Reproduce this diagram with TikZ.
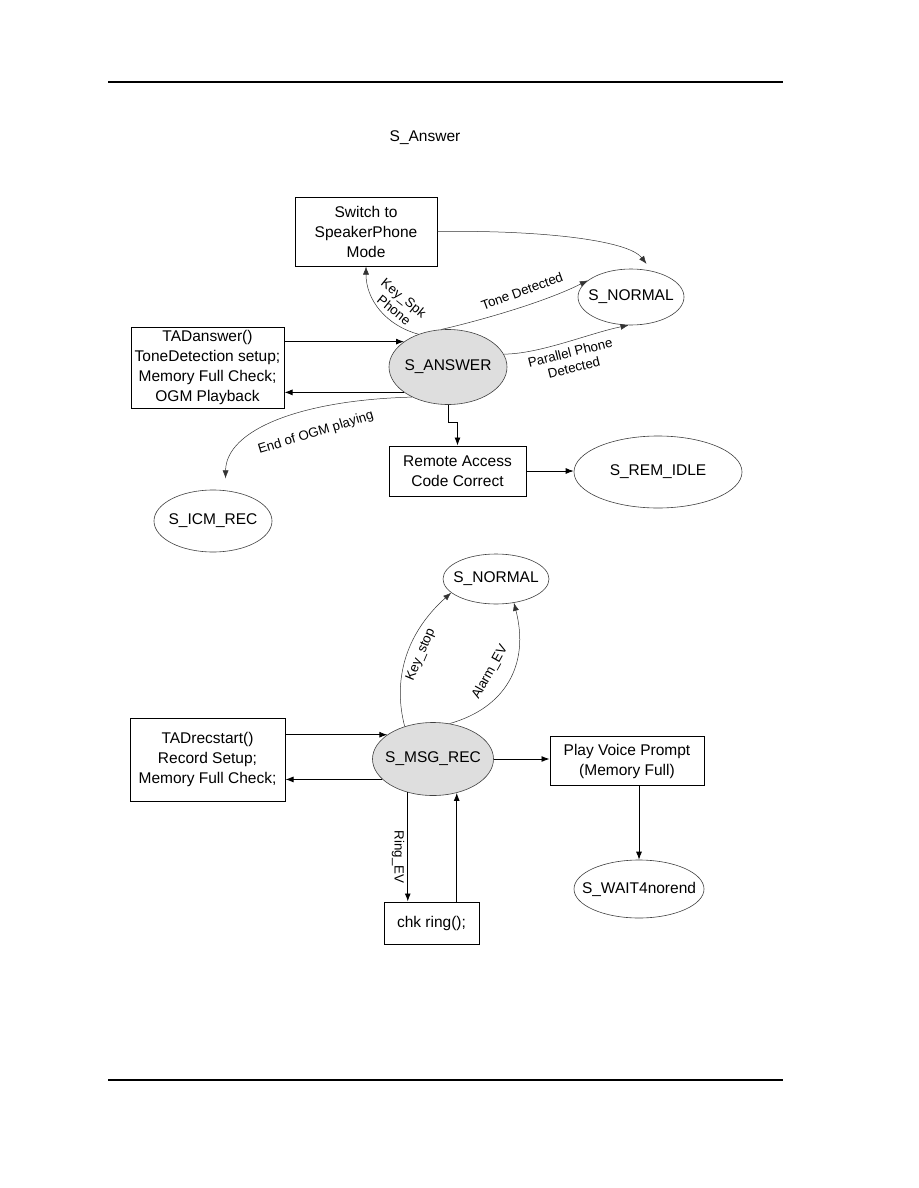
\documentclass[tikz,border=0pt]{standalone}
\usepackage{fontspec}
\setmainfont{Liberation Sans}
\usetikzlibrary{arrows.meta,shapes.geometric,calc}
\newcommand{\mainfs}{\fontsize{15.5}{20}\selectfont}
\newcommand{\lblfs}{\fontsize{13.3}{15.5}\selectfont}
\newcommand{\zb}[1]{\makebox[0pt]{#1}}
\begin{document}
\begin{tikzpicture}[x=1pt,y=-1pt,
  box/.style={draw, line width=1pt, rectangle, inner sep=0pt, align=center, font=\mainfs},
  st/.style={draw=black!75, line width=0.6pt, ellipse, inner sep=0pt, font=\mainfs},
  act/.style={st, fill=black!13},
  arr/.style={-{Latex[length=8pt,width=6pt]}, line width=0.9pt},
  crv/.style={-{Latex[length=8pt,width=6pt]}, line width=0.5pt, draw=black!80},
  lbl/.style={font=\lblfs, inner sep=0pt, align=center},
  rule/.style={line width=2pt}]
\fill[white] (0,0) rectangle (918,1188);
\useasboundingbox (0,0) rectangle (918,1188);

% page rules
\coordinate (r1a) at (108,82); \coordinate (r1b) at (783,82);
\coordinate (r2a) at (108,1080); \coordinate (r2b) at (783,1080);
\draw[rule] (r1a) -- (r1b);
\draw[rule] (r2a) -- (r2b);

\node[font=\mainfs] (title) at (425,138) {S\_Answer};

% ---------- upper diagram ----------
\node[box, minimum width=142, minimum height=69] (sw) at (366,231.5) {Switch to\\SpeakerPhone\\Mode};
\node[st, minimum width=106, minimum height=56] (nt) at (631,297) {\zb{S\_NORMAL}};
\node[act, minimum width=118, minimum height=75] (ans) at (448,367) {\zb{S\_ANSWER}};
\node[box, minimum width=153, minimum height=81] (ta) at (207.5,367.5) {TADanswer()\\ToneDetection setup;\\Memory Full Check;\\OGM Playback};
\node[box, minimum width=137, minimum height=50] (rac) at (457.5,471) {Remote Access\\Code Correct};
\node[st, minimum width=168, minimum height=72] (rem) at (658,472) {\zb{S\_REM\_IDLE}};
\node[st, minimum width=118, minimum height=62] (icm) at (213,521) {\zb{S\_ICM\_REC}};

\draw[arr] (ta.east |- ans.150) -- (ans.150);
\draw[arr] (ans.210) -- (ans.210 -| ta.east);
\draw[arr] (ans.south) -- ++(0,18) -| (rac.north);
\draw[arr] (rac.east) -- (rac.east -| rem.west);

\draw[crv] (ans.132) .. controls +(-33,-9) and +(0,33) .. (sw.south);
\draw[crv] (ans.100) .. controls (482,320) and (545,302) .. (nt.159);
\draw[crv] (ans.13) .. controls (540,354) and (590,333) .. (nt.265);
\draw[crv, shorten >=9pt] (sw.east) .. controls (540,230) and (628,240) .. (nt.51);
\draw[crv, shorten >=12pt] (ans.220) .. controls (300,400) and (226,430) .. (icm.68);

\node[lbl, rotate=-39] (lks) at (399,304) {Key\_Spk\\Phone};
\node[lbl, rotate=20] (ltd) at (522,291) {Tone Detected};
\node[lbl, rotate=14] (lpp) at (572,360) {Parallel Phone\\Detected};
\node[lbl, rotate=17] (leo) at (316,433) {End of OGM playing};

% ---------- lower diagram ----------
\node[st, minimum width=106, minimum height=50] (nb) at (496,579) {\zb{S\_NORMAL}};
\node[act, minimum width=121, minimum height=73] (msg) at (433,759) {\zb{S\_MSG\_REC}};
\node[box, minimum width=155, minimum height=83] (tr) at (207.5,759.5) {TADrecstart()\\Record Setup;\\Memory Full Check;};
\node[box, minimum width=154, minimum height=49] (play) at (627,761) {Play Voice Prompt\\(Memory Full)};
\node[box, minimum width=95, minimum height=42] (chk) at (431.5,923) {chk ring();};
\node[st, minimum width=130, minimum height=58] (wait) at (639,889) {\zb{S\_WAIT4norend}};

\draw[arr] (tr.east |- msg.152) -- (msg.152);
\draw[arr] (msg.202) -- (msg.202 -| tr.east);
\draw[arr] (msg.east) -- (msg.east -| play.west);
\draw[arr] (msg.233) -- (msg.233 |- chk.north);
\draw[arr] (chk.north -| msg.305) -- (msg.305);
\draw[arr] (play.south -| wait.north) -- (wait.north);
\draw[crv] (msg.131) .. controls (393,682) and (404,635) .. (nb.197);
\draw[crv] (msg.65) .. controls (505,708) and (530,665) .. (nb.307);

\node[lbl, rotate=67] (lkst) at (421,655) {Key\_stop};
\node[lbl, rotate=61] (lal) at (490,672) {Alarm\_EV};
\node[lbl, rotate=-90] (lre) at (398,857) {Ring\_EV};
\end{tikzpicture}
\end{document}
